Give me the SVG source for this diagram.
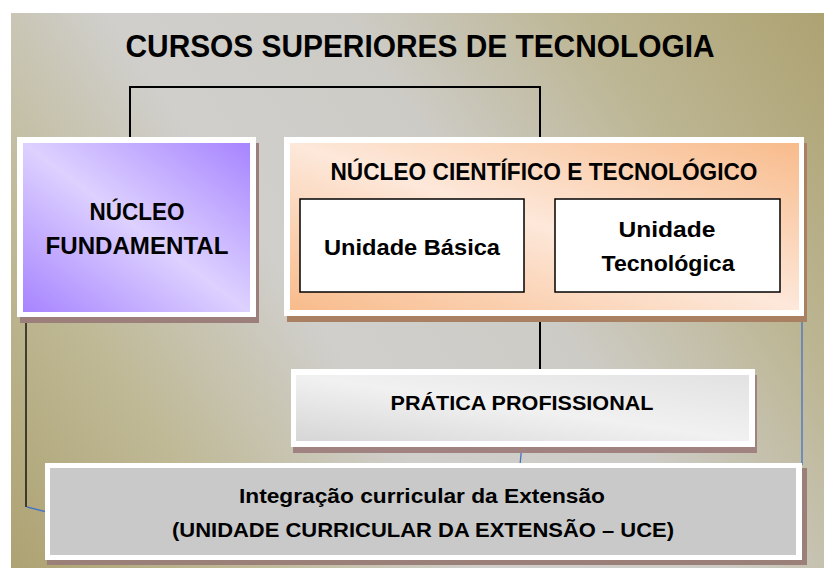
<svg xmlns="http://www.w3.org/2000/svg" width="824" height="568" viewBox="0 0 824 568">
  <defs>
    <linearGradient id="bg" gradientUnits="userSpaceOnUse" x1="824" y1="13" x2="11" y2="568">
      <stop offset="0" stop-color="#ada272"/>
      <stop offset="0.2" stop-color="#bcb592"/>
      <stop offset="0.4" stop-color="#cdcbc5"/>
      <stop offset="0.6" stop-color="#d0cfcc"/>
      <stop offset="0.8" stop-color="#bfb996"/>
      <stop offset="1" stop-color="#ada272"/>
    </linearGradient>
    <linearGradient id="purple" x1="1" y1="0" x2="0" y2="1">
      <stop offset="0" stop-color="#a784ff"/>
      <stop offset="0.5" stop-color="#ddd1ff"/>
      <stop offset="1" stop-color="#a784ff"/>
    </linearGradient>
    <linearGradient id="orange" x1="1" y1="0" x2="0" y2="1">
      <stop offset="0" stop-color="#f8bb8b"/>
      <stop offset="0.5" stop-color="#fde8da"/>
      <stop offset="1" stop-color="#f8bb8b"/>
    </linearGradient>
    <linearGradient id="grey" x1="0" y1="1" x2="1" y2="0">
      <stop offset="0" stop-color="#d6d6d6"/>
      <stop offset="0.5" stop-color="#f1f1f1"/>
      <stop offset="1" stop-color="#e2e2e2"/>
    </linearGradient>
  </defs>
  <style>
    text { font-family: "Liberation Sans", Arial, sans-serif; font-weight: bold; fill: #000; text-anchor: middle; }
    .frame { fill: #ffffff; }
    .line { stroke: #000; stroke-width: 2; fill: none; }
    .blue { stroke: #4472c4; stroke-width: 1.3; fill: none; }
    .unit { fill: #ffffff; stroke: #000; stroke-width: 1.5; }
  </style>

  <rect x="11" y="13" width="813" height="555" fill="url(#bg)"/>

  <g id="title">
    <text x="420" y="57" font-size="32" textLength="589" lengthAdjust="spacingAndGlyphs">CURSOS SUPERIORES DE TECNOLOGIA</text>
  </g>

  <g id="connectors">
    <polyline class="line" points="130,137 130,87 540,87 540,137"/>
    <line class="line" x1="540" y1="316" x2="540" y2="369"/>
    <line x1="26" y1="322" x2="26" y2="507" stroke="#000" stroke-width="1.3"/>
    <line class="blue" x1="27" y1="507" x2="47" y2="512"/>
    <line class="blue" x1="522" y1="444" x2="520" y2="465"/>
    <line class="blue" x1="802" y1="322" x2="802" y2="465"/>
  </g>

  <g id="nucleo-fundamental">
    <rect x="20" y="143" width="239" height="180" fill="#9c7f7a"/>
    <rect class="frame" x="17" y="137" width="239" height="180"/>
    <rect x="23" y="143" width="227" height="169" fill="url(#purple)"/>
    <text x="137" y="220" font-size="23" textLength="95" lengthAdjust="spacingAndGlyphs">NÚCLEO</text>
    <text x="137" y="254" font-size="23" textLength="183" lengthAdjust="spacingAndGlyphs">FUNDAMENTAL</text>
  </g>

  <g id="nucleo-cientifico">
    <rect x="287" y="143" width="520" height="179" fill="#a98061"/>
    <rect class="frame" x="284" y="137" width="520" height="179"/>
    <rect x="290" y="143" width="509" height="167" fill="url(#orange)"/>
    <text x="544" y="180" font-size="23" textLength="427" lengthAdjust="spacingAndGlyphs">NÚCLEO CIENTÍFICO E TECNOLÓGICO</text>
  </g>

  <g id="unidade-basica">
    <rect class="unit" x="300" y="199" width="224" height="93"/>
    <text x="412" y="255" font-size="22" textLength="176" lengthAdjust="spacingAndGlyphs">Unidade Básica</text>
  </g>

  <g id="unidade-tecnologica">
    <rect class="unit" x="555" y="199" width="225" height="93"/>
    <text x="667" y="237" font-size="22" textLength="97" lengthAdjust="spacingAndGlyphs">Unidade</text>
    <text x="668" y="271" font-size="22" textLength="133" lengthAdjust="spacingAndGlyphs">Tecnológica</text>
  </g>

  <g id="pratica-profissional">
    <rect x="293" y="375" width="464" height="78" fill="#a08380"/>
    <rect class="frame" x="291" y="369" width="464" height="78"/>
    <rect x="296" y="375" width="453" height="66" fill="url(#grey)"/>
    <text x="522" y="410" font-size="21" textLength="263" lengthAdjust="spacingAndGlyphs">PRÁTICA PROFISSIONAL</text>
  </g>

  <g id="integracao-extensao">
    <rect x="47" y="468" width="760" height="97" fill="#9b7f79"/>
    <rect class="frame" x="45" y="463" width="757" height="97"/>
    <rect x="50" y="468" width="746" height="87" fill="#c9c9c9"/>
    <text x="422" y="503" font-size="21" textLength="366" lengthAdjust="spacingAndGlyphs">Integração curricular da Extensão</text>
    <text x="423" y="537" font-size="21" textLength="502" lengthAdjust="spacingAndGlyphs">(UNIDADE CURRICULAR DA EXTENSÃO – UCE)</text>
  </g>
</svg>
